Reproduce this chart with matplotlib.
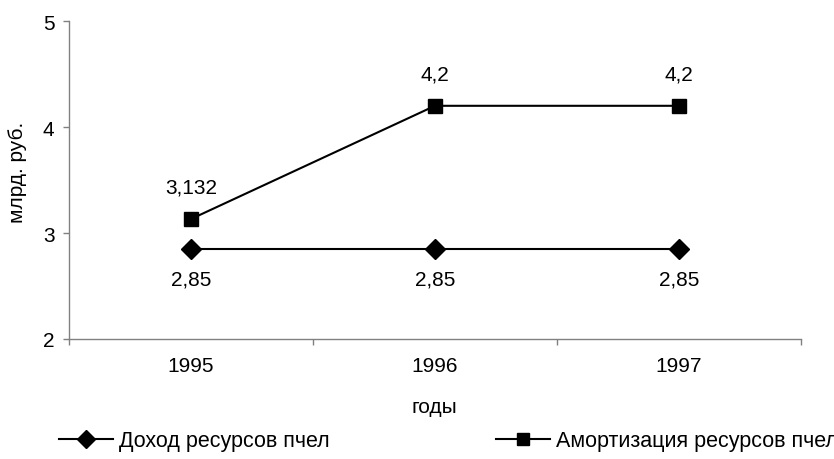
import matplotlib
matplotlib.use("Agg")
import matplotlib.pyplot as plt
from matplotlib.lines import Line2D

years = ["1995", "1996", "1997"]
income = [2.85, 2.85, 2.85]
amort = [3.132, 4.2, 4.2]
income_labels = ["2,85", "2,85", "2,85"]
amort_labels = ["3,132", "4,2", "4,2"]
yticks = [2, 3, 4, 5]

AXIS = "#808080"
INK = "#000000"
FS = 15

plt.rcParams.update({
    "font.family": ["Liberation Sans", "DejaVu Sans"],
    "font.size": FS,
    "text.color": INK,
})

fig = plt.figure(figsize=(8.34, 4.6), dpi=100)
ax = fig.add_axes([69 / 834, 1 - 340 / 460, 732 / 834, 318 / 460])

x = list(range(len(years)))
ax.plot(x, income, color=INK, lw=1.5, marker="D", ms=10, mfc=INK, mec=INK,
        clip_on=False, zorder=3)
ax.plot(x, amort, color=INK, lw=1.5, marker="s", ms=9.5, mfc=INK, mec=INK,
        clip_on=False, zorder=3)

for xi, v, t in zip(x, amort, amort_labels):
    ax.annotate(t, (xi, v), xytext=(0, 23), textcoords="offset points",
                ha="center", va="center", fontsize=FS)
for xi, v, t in zip(x, income, income_labels):
    ax.annotate(t, (xi, v), xytext=(0, -22), textcoords="offset points",
                ha="center", va="center", fontsize=FS)

ax.set_xlim(-0.5, len(years) - 0.5)
ax.set_ylim(2, 5)
ax.set_yticks(yticks)
ax.set_yticklabels([str(v) for v in yticks])

# category boundaries get the tick marks, labels sit in the middle
ax.set_xticks([i - 0.5 for i in range(len(years) + 1)])
ax.set_xticklabels([])
ax.set_xticks(x, minor=True)
ax.set_xticklabels(years, minor=True)
ax.tick_params(axis="x", which="major", direction="out", length=4,
               width=1, color=AXIS)
ax.tick_params(axis="x", which="minor", length=0, pad=12, labelsize=FS)
ax.tick_params(axis="y", direction="out", length=4.5, width=1, color=AXIS,
               pad=6, labelsize=FS)

for side in ("top", "right"):
    ax.spines[side].set_visible(False)
for side in ("left", "bottom"):
    ax.spines[side].set_color(AXIS)
    ax.spines[side].set_linewidth(1)

fig.text(434 / 834, 1 - 408 / 460, "годы", ha="center", va="center",
         fontsize=FS)
fig.text(18 / 834, 1 - 172 / 460, "млрд. руб.", rotation=90,
         ha="center", va="center", fontsize=FS)

h1 = Line2D([], [], color=INK, lw=1.5, marker="D", ms=9)
h2 = Line2D([], [], color=INK, lw=1.5, marker="s", ms=8)
for h, label, x0 in ((h1, "Доход ресурсов пчел", 59),
                     (h2, "Амортизация ресурсов пчел", 496)):
    fig.legend([h], [label], loc="center left",
               bbox_to_anchor=(x0 / 834, 1 - 442 / 460),
               frameon=False, borderpad=0, borderaxespad=0,
               handlelength=2.5, handletextpad=0.3, fontsize=FS + 0.5)

fig.savefig("out.png", dpi=100)
